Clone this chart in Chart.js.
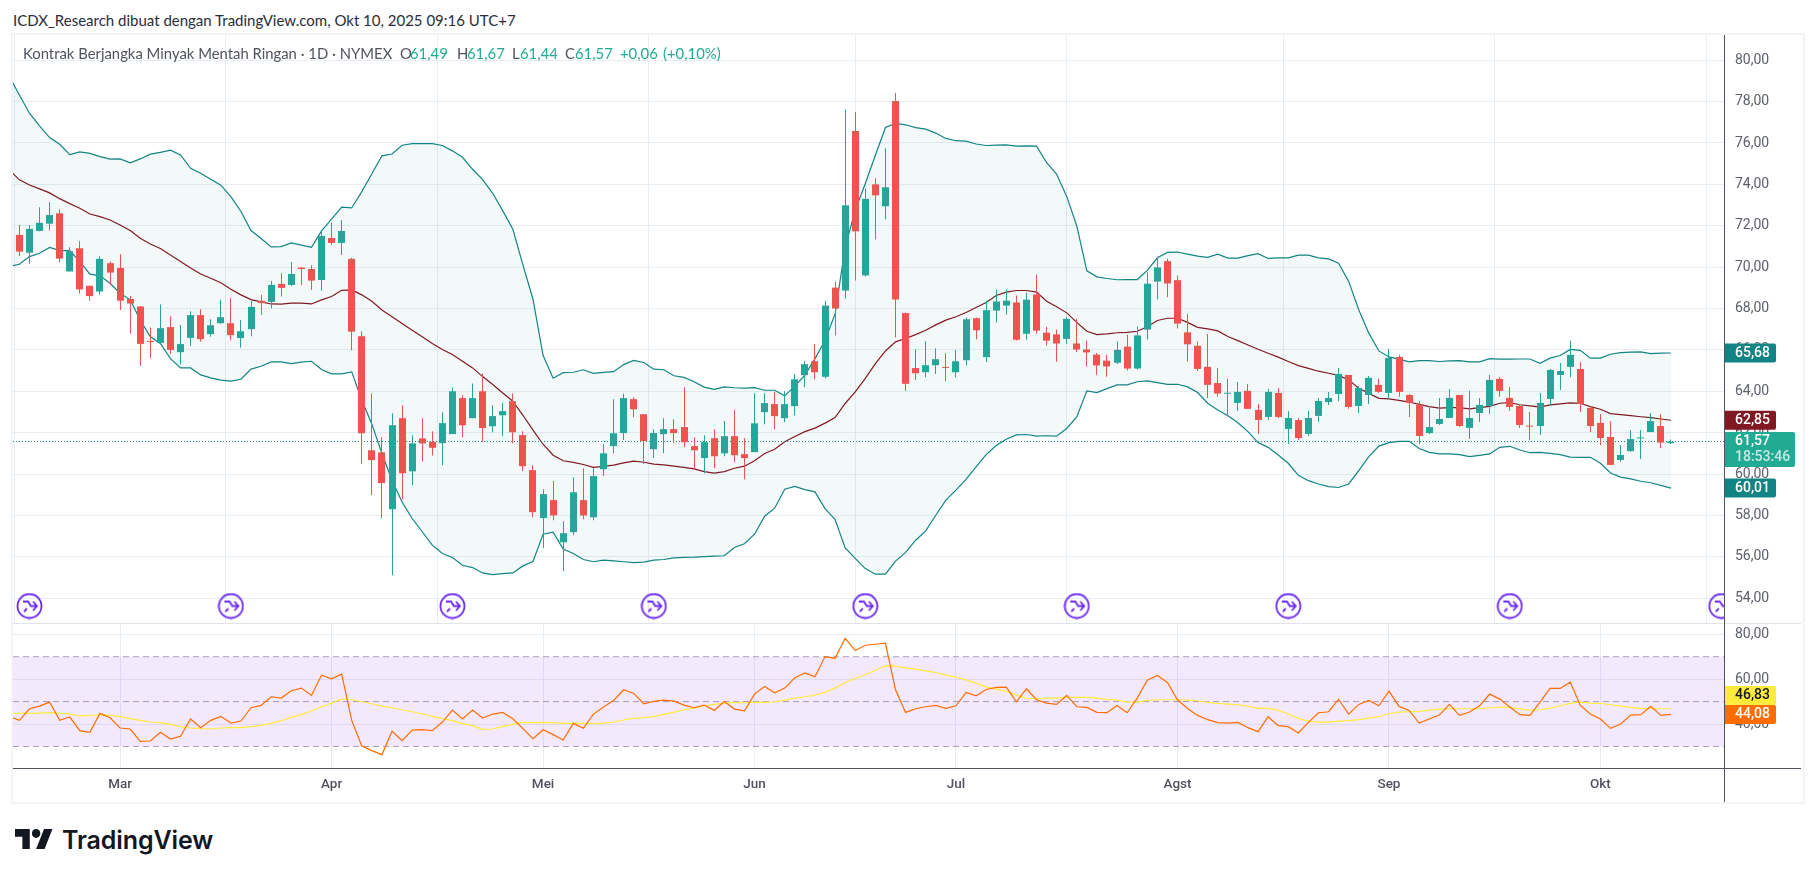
<!DOCTYPE html>
<html>
<head>
<meta charset="utf-8">
<title>Kontrak Berjangka Minyak Mentah Ringan</title>
<script src="https://cdn.jsdelivr.net/npm/chart.js@4"></script>
<style>
    html, body { margin: 0; padding: 0; background: #fff; width: 1814px; height: 878px; overflow: hidden; }
    body { position: relative; font-family: Lato, "Noto Sans", sans-serif; }
    canvas { position: absolute; left: 13px; }
    #snapTitle { position: absolute; left: 13px; top: 11px; font-size: 15px; line-height: 18px; color: #2a2e39; white-space: nowrap; }
    #frame { position: absolute; left: 11px; top: 33px; width: 1790px; height: 767px; border: 2px solid #f3f4f6; }
    #legend { position: absolute; left: 0; top: 44px; height: 18px; font-size: 14.85px; line-height: 18px; color: #50535e; z-index: 3; }
    #legend span { position: absolute; top: 0; white-space: nowrap; }
    #legend .val { color: #22ab94; }
    .rule { position: absolute; z-index: 2; }
    #logo { position: absolute; left: 15px; top: 826px; height: 30px; color: #131722; }
    #logo svg { position: absolute; left: 0; top: 3px; }
    #logo b { position: absolute; left: 47px; top: -2px; font: 600 25px/32px Inter, sans-serif; letter-spacing: -0.1px; }
</style>
</head>
<body>
<div id="snapTitle">ICDX_Research dibuat dengan TradingView.com, Okt 10, 2025 09:16 UTC+7</div>
<div id="frame"></div>
<canvas id="priceChart" width="1788" height="588" style="top:35px"></canvas>
<canvas id="rsiChart" width="1788" height="178" style="top:624px"></canvas>
<div class="rule" style="left:13px;top:623px;width:1788px;height:1px;background:#e0e3eb"></div>
<div class="rule" style="left:1724px;top:35px;width:1px;height:767px;background:#50535e"></div>
<div class="rule" style="left:13px;top:768px;width:1788px;height:1px;background:#50535e"></div>
<div id="legend">
    <span style="left:23px">Kontrak Berjangka Minyak Mentah Ringan · 1D · NYMEX</span>
    <span style="left:400px">O</span><span class="val" style="left:410px">61,49</span>
    <span style="left:457px">H</span><span class="val" style="left:467px">61,67</span>
    <span style="left:512px">L</span><span class="val" style="left:520px">61,44</span>
    <span style="left:565px">C</span><span class="val" style="left:575px">61,57</span>
    <span class="val" style="left:620px">+0,06</span><span class="val" style="left:663px">(+0,10%)</span>
</div>
<div id="logo">
    <svg width="38" height="20" viewBox="0 4 36 18" preserveAspectRatio="none" fill="currentColor"><path d="M14 22H7V11H0V4h14v18zM28 22h-8l7.5-18h8L28 22z"/><circle cx="20" cy="8" r="4"/></svg>
    <b>TradingView</b>
</div>
<script>
// Candles, daily bars from mid Feb to 10 Oct 2025
const opens = [71.56,70.70,71.75,72.10,72.60,69.79,70.91,69.10,68.82,70.19,
    69.96,68.46,68.10,66.42,66.34,67.10,65.89,66.58,67.68,66.76,
    67.29,67.29,66.57,67.00,68.37,68.32,69.19,69.14,69.98,69.91,
    69.38,71.41,71.17,70.40,66.66,61.15,61.05,58.30,62.70,60.13,
    61.72,61.56,61.49,61.93,63.67,62.70,64.00,62.31,62.84,63.52,
    61.88,60.19,57.87,58.74,56.70,57.19,58.74,57.91,60.23,61.35,
    61.98,63.62,62.89,61.20,61.93,62.17,62.27,61.35,60.77,61.73,
    61.00,61.83,60.96,61.06,62.99,63.38,62.70,63.28,64.78,65.45,
    64.70,69.01,68.87,76.58,69.60,74.00,72.94,78.03,67.78,65.12,
    64.92,65.26,65.17,64.92,65.50,67.53,65.65,67.90,68.14,68.29,
    66.78,68.68,66.83,66.75,66.53,66.31,66.02,65.77,65.48,65.38,
    66.16,65.10,66.98,69.30,70.29,69.37,66.85,66.20,65.18,64.40,
    63.88,63.44,64.02,63.10,62.76,63.92,62.18,62.61,61.94,62.81,
    63.48,63.87,64.79,63.29,63.82,64.31,63.92,65.66,63.82,63.34,
    61.98,62.42,62.71,63.82,62.23,62.95,63.29,64.60,63.68,63.29,
    62.34,62.32,63.63,64.79,65.18,65.08,63.19,62.47,61.79,60.68,
    61.11,61.72,62.03,62.32,61.49];
const highs = [72.04,72.03,72.90,73.15,72.80,70.96,71.25,69.10,70.53,70.27,
    70.62,68.60,68.12,67.08,68.20,67.63,67.20,67.87,67.97,67.48,
    68.42,68.51,67.44,68.37,68.66,69.33,69.70,70.25,70.00,70.09,
    71.75,72.14,72.28,70.45,66.90,63.89,61.78,62.94,63.33,61.87,
    62.70,62.07,62.99,64.18,63.81,64.37,64.86,63.33,63.43,63.89,
    62.07,60.43,59.27,59.66,57.72,59.85,60.28,60.28,61.44,63.62,
    63.89,63.71,62.89,62.17,62.70,62.65,64.20,61.78,61.88,62.17,
    62.56,63.09,61.73,63.91,63.91,63.96,64.00,64.83,65.46,66.28,
    68.38,69.31,77.63,77.50,73.80,74.30,75.75,78.42,67.81,66.03,
    66.42,66.08,65.84,65.99,67.56,67.56,68.38,68.92,68.92,68.63,
    68.77,69.65,67.12,66.98,67.60,67.50,66.44,65.85,65.75,66.40,
    66.75,67.13,69.75,70.50,70.40,69.60,67.75,66.40,66.77,65.13,
    64.60,64.45,64.35,63.39,64.11,64.16,63.05,62.71,63.05,63.68,
    63.97,65.13,64.79,64.26,64.74,64.60,66.05,65.76,63.87,63.53,
    63.29,63.68,64.11,63.82,64.02,63.68,64.79,64.69,64.21,63.39,
    63.00,63.92,65.08,65.37,66.44,65.42,63.29,62.90,62.56,61.40,
    62.13,62.13,62.95,62.90,61.67];
const lows = [70.54,70.16,71.73,71.77,70.22,69.79,68.72,68.38,68.67,69.14,
    67.93,66.79,65.23,65.60,66.30,65.80,65.30,66.18,66.39,66.63,
    67.26,66.47,66.10,66.66,67.69,68.00,68.58,69.09,69.14,68.90,
    68.87,71.07,70.59,65.98,60.49,58.98,57.87,55.11,58.77,59.46,
    60.60,60.90,60.43,61.93,61.78,62.70,61.56,62.02,61.83,61.49,
    60.14,57.91,56.43,57.77,55.30,57.04,57.82,57.77,59.90,61.00,
    61.64,62.75,60.48,60.77,61.00,61.49,61.30,60.20,60.04,60.28,
    60.86,60.57,59.75,61.06,62.41,62.17,62.50,62.84,64.20,64.58,
    64.62,66.69,68.48,69.35,69.55,71.34,72.31,66.60,64.02,64.54,
    64.68,64.83,64.49,64.68,65.26,66.52,65.41,67.33,67.71,66.45,
    66.49,66.78,66.20,65.43,66.30,65.90,65.20,64.80,64.70,65.32,
    65.00,65.05,66.50,68.45,68.54,67.03,65.44,64.98,63.68,63.73,
    62.82,63.05,63.15,61.94,62.61,62.71,61.45,61.65,61.84,62.52,
    63.34,63.53,63.15,62.95,63.39,63.92,63.68,63.73,62.76,61.45,
    61.94,62.37,62.71,62.27,61.69,62.52,62.90,63.73,63.05,62.23,
    61.65,61.89,63.34,64.06,64.69,63.00,62.03,61.40,60.44,60.58,
    61.06,60.73,62.03,61.26,61.44];
const closes = [70.75,71.85,72.14,72.52,70.41,70.77,68.92,68.60,70.40,69.74,
    68.38,68.24,66.29,66.38,67.05,66.00,66.28,67.68,66.52,67.19,
    67.58,66.71,66.90,68.08,68.26,69.14,69.00,69.67,69.91,69.35,
    71.51,71.17,71.75,66.88,61.97,60.67,59.56,62.36,60.04,61.48,
    61.48,61.27,62.46,64.00,62.36,63.67,62.22,62.80,63.04,62.02,
    60.38,58.16,59.03,58.00,57.14,59.12,58.00,59.90,61.00,61.97,
    63.67,63.13,61.59,61.98,62.17,61.98,61.54,61.15,61.54,60.86,
    61.83,60.91,60.77,62.45,63.43,62.80,63.38,64.58,65.31,64.92,
    68.14,68.00,72.99,71.73,73.30,73.47,73.86,68.43,64.36,64.87,
    65.26,65.55,65.13,65.45,67.48,66.95,67.92,68.34,68.38,66.49,
    68.43,66.93,66.45,66.31,67.50,66.02,65.88,65.25,65.20,66.00,
    65.10,66.70,69.20,69.99,69.21,67.27,66.27,65.08,64.31,63.89,
    63.92,63.97,63.15,62.61,63.97,62.76,62.71,61.74,62.71,63.53,
    63.68,64.84,63.24,64.16,64.65,63.97,65.61,63.97,63.44,61.84,
    62.27,62.66,63.68,62.32,62.71,63.34,64.55,64.02,63.24,62.37,
    62.29,63.44,65.03,64.98,65.76,63.39,62.32,61.74,60.44,60.92,
    61.69,61.76,62.56,61.52,61.57];

// Bollinger bands, first value is the bar just left of the pane
const bbUpper = [79.21,78.32,77.44,76.83,76.26,75.94,75.44,75.57,75.50,75.34,75.22,
    75.23,75.04,75.23,75.46,75.55,75.65,75.42,74.78,74.54,74.25,
    73.96,73.41,72.69,71.77,71.38,70.98,70.99,71.17,71.06,70.96,
    71.75,72.32,72.90,72.86,73.65,74.51,75.38,75.47,75.89,75.97,
    75.97,75.97,75.88,75.62,75.31,74.73,74.23,73.57,72.72,71.83,
    70.11,68.45,65.74,64.63,64.90,64.92,65.04,64.87,64.91,64.95,
    65.29,65.49,65.39,65.07,65.04,64.75,64.67,64.46,64.20,64.09,
    64.21,64.17,64.15,64.18,64.05,64.05,63.78,64.25,64.78,65.58,
    66.45,67.74,70.97,72.75,74.04,75.41,76.75,76.95,76.88,76.74,
    76.67,76.48,76.22,76.11,76.09,75.95,75.88,75.90,75.91,75.85,
    75.86,75.85,75.06,74.49,73.42,71.99,69.82,69.53,69.45,69.39,
    69.40,69.40,69.84,70.45,70.71,70.73,70.63,70.53,70.47,70.63,
    70.44,70.44,70.56,70.65,70.42,70.45,70.45,70.58,70.58,70.45,
    70.40,70.19,69.31,67.94,66.81,65.95,65.66,65.55,65.42,65.48,
    65.48,65.44,65.47,65.48,65.42,65.42,65.58,65.55,65.55,65.56,
    65.56,65.35,65.60,65.73,66.02,65.98,65.60,65.60,65.79,65.87,
    65.89,65.90,65.82,65.84,65.85];
const bbBasis = [74.70,74.22,73.97,73.78,73.59,73.31,73.07,72.85,72.57,72.44,72.28,
    72.04,71.77,71.40,71.12,70.90,70.59,70.27,69.96,69.67,69.46,
    69.25,68.93,68.66,68.43,68.32,68.22,68.21,68.26,68.26,68.22,
    68.42,68.58,68.88,68.90,68.66,68.35,67.93,67.60,67.27,66.95,
    66.63,66.31,66.02,65.78,65.45,65.13,64.71,64.33,63.92,63.52,
    62.84,62.12,61.44,60.91,60.64,60.56,60.46,60.32,60.37,60.43,
    60.54,60.62,60.57,60.48,60.44,60.38,60.32,60.25,60.12,60.04,
    60.12,60.28,60.38,60.64,60.99,61.20,61.56,61.81,62.05,62.22,
    62.46,62.73,63.41,63.97,64.62,65.34,65.95,66.39,66.55,66.74,
    66.95,67.21,67.44,67.60,67.81,68.05,68.29,68.63,68.79,68.87,
    68.87,68.79,68.35,68.09,67.79,67.33,66.90,66.74,66.77,66.83,
    66.85,66.90,67.12,67.42,67.53,67.53,67.33,67.09,67.02,66.92,
    66.65,66.45,66.24,66.03,65.84,65.65,65.44,65.24,65.11,64.97,
    64.87,64.77,64.55,64.15,63.90,63.66,63.63,63.56,63.48,63.37,
    63.26,63.19,63.21,63.21,63.15,63.21,63.27,63.42,63.45,63.35,
    63.29,63.23,63.34,63.39,63.44,63.42,63.26,63.13,62.92,62.87,
    62.82,62.77,62.73,62.66,62.60];
const bbLower = [70.03,70.14,70.51,70.67,70.95,70.80,70.80,70.27,69.66,69.58,69.22,
    68.74,68.42,67.44,66.63,66.31,65.58,65.13,65.13,64.79,64.65,
    64.54,64.49,64.58,65.07,65.21,65.42,65.42,65.34,65.41,65.45,
    65.05,64.84,64.84,64.94,63.57,62.41,60.99,59.70,58.65,57.85,
    57.21,56.56,56.16,55.97,55.59,55.48,55.22,55.14,55.19,55.22,
    55.56,55.77,57.09,57.19,56.37,56.16,55.87,55.76,55.84,55.80,
    55.76,55.72,55.74,55.84,55.87,55.95,55.97,55.98,56.01,56.03,
    56.05,56.45,56.63,57.09,57.96,58.35,59.27,59.40,59.25,59.14,
    58.33,57.80,56.43,55.92,55.43,55.16,55.16,55.79,56.21,56.80,
    57.25,58.01,58.74,59.22,59.74,60.35,60.94,61.38,61.68,61.89,
    61.91,61.83,61.85,61.83,62.20,62.76,64.02,63.94,64.13,64.31,
    64.31,64.46,64.50,64.42,64.33,64.34,64.21,63.94,63.42,63.10,
    62.82,62.48,62.05,61.52,61.29,60.92,60.52,59.94,59.68,59.52,
    59.39,59.35,59.52,60.16,60.84,61.35,61.52,61.58,61.58,61.23,
    61.05,60.97,60.97,60.94,60.84,60.90,60.97,61.29,61.34,61.16,
    61.03,61.05,61.00,60.94,60.82,60.81,60.81,60.52,60.05,59.85,
    59.77,59.65,59.58,59.45,59.32];

// RSI and its moving average, same leading value as the bands
const rsiValues = [43.40,41.63,46.81,48.00,49.78,41.63,43.11,37.04,36.30,44.74,42.81,
    38.22,37.78,32.30,32.44,36.30,33.33,34.52,42.22,38.37,41.63,
    43.41,40.44,41.33,47.26,48.30,52.15,51.56,54.81,56.00,52.74,
    61.78,60.15,62.22,41.63,30.22,28.15,26.37,36.74,32.59,37.33,
    37.48,37.04,40.89,46.22,42.22,46.22,42.67,44.44,45.19,42.37,
    37.93,33.48,37.48,35.26,32.89,40.30,38.07,44.44,47.56,50.52,
    55.26,53.63,49.04,50.07,50.67,50.22,48.44,47.26,48.44,46.07,
    50.07,46.67,45.93,53.33,56.74,53.93,56.00,60.59,62.81,61.04,
    70.07,69.33,78.22,72.74,75.11,75.56,76.00,55.26,45.19,46.81,
    47.70,48.30,46.96,48.15,54.07,52.59,55.41,56.30,56.44,49.93,
    55.70,50.81,49.33,48.74,52.74,47.70,47.41,45.19,45.04,48.30,
    45.04,51.56,59.56,61.63,58.52,50.81,46.96,43.85,41.93,40.59,
    40.44,40.74,38.37,36.59,43.26,39.26,38.81,36.00,40.74,45.04,
    45.48,50.96,44.44,48.74,50.52,48.15,54.67,47.85,46.07,40.44,
    42.22,44.00,48.74,43.85,45.33,48.15,53.33,51.11,47.56,44.15,
    43.85,49.78,55.85,55.85,58.67,48.30,44.44,42.22,38.07,40.00,
    44.00,44.15,47.85,43.85,44.30];
const rsiMa = [44.90,44.74,44.74,44.89,45.04,44.89,44.44,43.70,43.70,44.15,43.85,
    43.26,42.37,41.63,40.89,40.59,39.85,38.81,38.22,37.93,37.78,
    38.22,38.37,38.37,38.81,39.41,40.30,41.48,42.96,44.30,45.78,
    47.70,49.33,51.11,50.81,49.93,49.04,48.00,47.26,46.37,45.48,
    44.59,43.41,42.37,41.48,40.15,39.26,37.63,37.78,38.81,39.85,
    40.74,40.59,40.74,40.59,40.30,40.44,40.30,40.15,40.44,40.89,
    41.78,42.52,42.81,43.26,44.30,45.33,46.37,47.11,48.15,48.74,
    49.33,49.63,49.48,49.63,49.63,49.93,50.67,51.56,52.15,52.89,
    54.22,56.00,58.37,60.30,61.93,64.00,65.93,65.78,65.04,64.44,
    63.70,62.96,61.78,60.89,59.70,58.22,56.44,55.56,54.52,52.89,
    51.41,51.26,51.56,51.56,51.85,51.85,51.85,51.56,50.96,50.67,
    49.78,49.78,50.52,50.81,50.81,50.81,50.67,50.37,49.63,49.19,
    48.89,48.59,48.00,46.96,46.96,46.22,44.44,42.52,41.33,40.89,
    40.89,41.33,41.48,41.93,42.67,43.26,44.59,45.33,45.48,45.63,
    46.22,46.67,46.81,46.81,46.81,46.81,47.26,47.41,47.41,46.81,
    46.22,46.37,47.11,48.15,49.19,49.78,49.33,49.19,48.59,48.00,
    47.41,46.96,46.81,46.81,46.81];

// Ticks and marks
const priceTicks = [54,56,58,60,62,64,66,68,70,72,74,76,78,80];
const rsiTicks = [40,60,80];
const rsiBands = [30,50,70];
const monthLabels = ['Mar','Apr','Mei','Jun','Jul','Agst','Sep','Okt'];
const monthBars = [10,31,52,73,93,115,136,157];
const rollBars = [1,21,43,63,84,105,126,148,169];
const rollPrice = 53.62;
const upperTag = '65,68', basisTag = '62,85', lowerTag = '60,01';
const closeTag = '61,57', countdownTag = '18:53:46';
const rsiTag = '44,08', rsiMaTag = '46,83';

const xMin = -0.636, xMax = 169.27;
const axisFamily = 'Roboto, "Noto Sans", sans-serif';
const tickFont = { family: axisFamily, size: 14 };
const green = '#26a69a', red = '#ef5350', teal = '#138484', grid = '#e6eef4';

const fmt = v => v.toFixed(2).replace('.', ',');
const onBars = arr => arr.map((v, i) => ({ x: i - 1, y: v }));

function rollIcon() {
    const c = document.createElement('canvas');
    c.width = 27; c.height = 27;
    const g = c.getContext('2d');
    g.strokeStyle = '#6a28f4';
    g.lineWidth = 1.8;
    g.beginPath(); g.arc(13.5, 13.5, 12, 0, 2 * Math.PI); g.stroke();
    g.beginPath();
    g.moveTo(7, 9); g.lineTo(12, 9); g.lineTo(15, 13.5); g.lineTo(21, 13.5);
    g.moveTo(17, 9); g.lineTo(21, 13.5); g.lineTo(17, 18);
    g.moveTo(8, 19); g.lineTo(11, 16);
    g.stroke();
    return c;
}

function drawTag(chart, y, h, text, bg, fg, w) {
    const ctx = chart.ctx, x = chart.chartArea.right;
    ctx.save();
    ctx.fillStyle = bg;
    ctx.beginPath();
    ctx.roundRect(x, y, w || 52, h, [0, 2, 2, 0]);
    ctx.fill();
    ctx.fillStyle = fg;
    ctx.font = '500 14px ' + axisFamily;
    ctx.textBaseline = 'middle';
    ctx.fillText(text, x + 11, y + 9.5);
    ctx.restore();
}

// Bars land on whole pixels so the wicks stay sharp
const snapBars = {
    id: 'snapBars',
    afterDatasetsUpdate(chart) {
        chart.data.datasets.forEach((ds, i) => {
            if (ds.type !== 'bar') return;
            chart.getDatasetMeta(i).data.forEach(b => { b.x = Math.round(b.x - 0.5) + 0.5; });
        });
    }
};

const priceTags = {
    id: 'priceTags',
    afterDraw(chart) {
        const s = chart.scales.y;
        const at = v => s.getPixelForValue(v);
        drawTag(chart, at(bbUpper[bbUpper.length - 1]) - 9.5, 19, upperTag, teal, '#fff');
        drawTag(chart, at(bbBasis[bbBasis.length - 1]) - 9.5, 19, basisTag, '#801922', '#fff');
        const cy = at(closes[closes.length - 1]);
        drawTag(chart, cy - 9.5, 35, closeTag, '#22ab94', '#fff', 71);
        chart.ctx.save();
        chart.ctx.fillStyle = '#c4e9e2';
        chart.ctx.font = '500 14px ' + axisFamily;
        chart.ctx.textBaseline = 'middle';
        chart.ctx.fillText(countdownTag, chart.chartArea.right + 11, cy + 16);
        chart.ctx.restore();
        drawTag(chart, at(bbLower[bbLower.length - 1]) - 9.5, 19, lowerTag, teal, '#fff');
    }
};

const rsiTags = {
    id: 'rsiTags',
    afterDraw(chart) {
        const y = chart.scales.y.getPixelForValue(rsiValues[rsiValues.length - 1]) - 9.5;
        drawTag(chart, y - 19, 19, rsiMaTag, '#ffeb3b', '#131722');
        drawTag(chart, y, 19, rsiTag, '#ff6d00', '#fff');
    }
};

// Scales keep half a label of padding even with autoPadding off, so clear it here
const noPad = s => { s.paddingTop = s.paddingBottom = s.paddingLeft = s.paddingRight = 0; };

const xScale = labelsOn => ({
    type: 'linear', offset: false, min: xMin, max: xMax,
    afterBuildTicks: s => { s.ticks = monthBars.map(v => ({ value: v })); },
    afterFit: s => { noPad(s); s.height = labelsOn ? 34 : 0; },
    grid: { color: grid, drawTicks: false },
    border: { display: false },
    ticks: {
        display: labelsOn, autoSkip: false, maxRotation: 0, padding: 9,
        color: '#50535e', font: { family: axisFamily, size: 13.5, weight: '500' },
        callback: v => monthLabels[monthBars.indexOf(v)]
    }
});

const yScale = (min, max, ticks) => ({
    position: 'right', min, max,
    afterBuildTicks: s => { s.ticks = ticks.map(v => ({ value: v })); },
    afterFit: s => { noPad(s); s.width = 77; },
    grid: { color: grid, drawTicks: false },
    border: { display: false },
    ticks: { padding: 11, color: '#5d606b', font: tickFont, callback: fmt }
});

const baseOpts = {
    responsive: false, animation: false, events: [],
    layout: { padding: 0, autoPadding: false },
    plugins: { legend: { display: false }, tooltip: { enabled: false } },
    elements: { point: { radius: 0 }, line: { tension: 0 } }
};

const line = (data, color, width, extra) => Object.assign({
    type: 'line', data, borderColor: color, borderWidth: width, pointRadius: 0, fill: false
}, extra);

const candleColors = closes.map((c, i) => (c >= opens[i] ? green : red));

// Price pane
new Chart(document.getElementById('priceChart'), {
    type: 'bar',
    data: {
        datasets: [
            line(onBars(bbUpper), teal, 1.2, { order: 6, fill: { target: 1 }, backgroundColor: 'rgba(19,132,132,0.05)' }),
            line(onBars(bbLower), teal, 1.2, { order: 5 }),
            line(onBars(bbBasis), '#801922', 1.2, { order: 4 }),
            line([{ x: xMin, y: closes[closes.length - 1] }, { x: xMax, y: closes[closes.length - 1] }], '#138484', 1, { order: 3, borderDash: [1, 2] }),
            { type: 'bar', order: 2, grouped: false, barThickness: 1, inflateAmount: 0,
              data: closes.map((c, i) => ({ x: i, y: [lows[i], highs[i]] })), backgroundColor: candleColors },
            { type: 'bar', order: 1, grouped: false, barThickness: 7, inflateAmount: 0, minBarLength: 1,
              data: closes.map((c, i) => ({ x: i, y: [opens[i], c] })), backgroundColor: candleColors },
            line(rollBars.map(b => ({ x: b, y: rollPrice })), '#6a28f4', 0, { order: 0, showLine: false, pointRadius: 13, pointStyle: rollIcon() })
        ]
    },
    options: {
        ...baseOpts,
        scales: { x: xScale(false), y: yScale(52.8, 81.22, priceTicks) }
    },
    plugins: [snapBars, priceTags]
});

// RSI pane
const bandLine = v => [{ x: xMin, y: v }, { x: xMax, y: v }];
new Chart(document.getElementById('rsiChart'), {
    type: 'line',
    data: {
        datasets: [
            line(bandLine(rsiBands[2]), '#a9a6b2', 1, { order: 5, borderDash: [6, 4], fill: { target: 1 }, backgroundColor: 'rgba(145,25,235,0.1)' }),
            line(bandLine(rsiBands[0]), '#a9a6b2', 1, { order: 5, borderDash: [6, 4] }),
            line(bandLine(rsiBands[1]), '#a9a6b2', 1, { order: 5, borderDash: [6, 4] }),
            line(onBars(rsiMa), '#ffeb3b', 1.2, { order: 2 }),
            line(onBars(rsiValues), '#ff6d00', 1.2, { order: 1 })
        ]
    },
    options: {
        ...baseOpts,
        scales: { x: xScale(true), y: yScale(20.4, 84.58, rsiTicks) }
    },
    plugins: [rsiTags]
});
</script>
</body>
</html>
